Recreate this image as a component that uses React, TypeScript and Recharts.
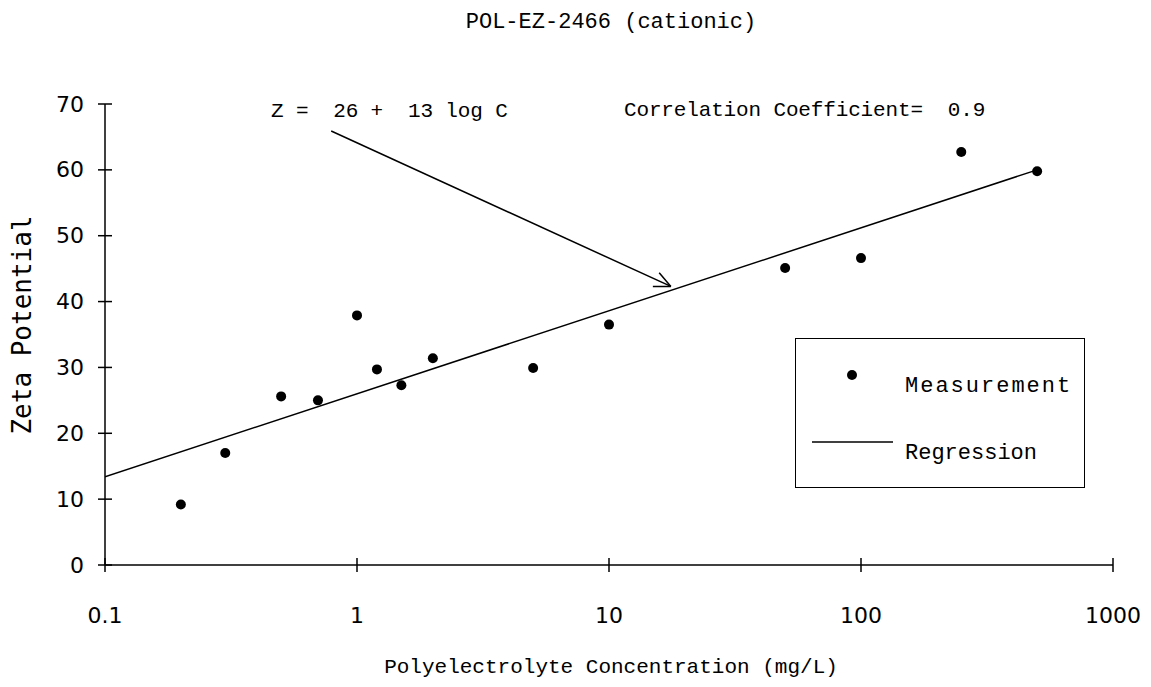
import { ScatterChart, Scatter, XAxis, YAxis, ReferenceLine, Legend } from "recharts";

// concentration (mg/L) and measured zeta potential
const concentration = [0.2, 0.3, 0.5, 0.7, 1, 1.2, 1.5, 2, 5, 10, 50, 100, 250, 500];
const zeta = [9.2, 17.0, 25.6, 25.0, 37.9, 29.7, 27.3, 31.4, 29.9, 36.5, 45.1, 46.6, 62.7, 59.8];

// fitted line end points
const regressionC = [0.1, 500];
const regressionZ = [13.4, 60];

const xTicks = [0.1, 1, 10, 100, 1000];
const yTicks = [0, 10, 20, 30, 40, 50, 60, 70];

// arrow from the equation to the line
const arrowFrom = { x: 0.79, y: 65.9 };
const arrowTo = { x: 17.6, y: 42.3 };

const measurements = concentration.map((c, i) => ({ x: c, y: zeta[i] }));
const regression = regressionC.map((c, i) => ({ x: c, y: regressionZ[i] }));

const W = 1135;
const H = 671;
const TICK = 7;
const X_MARGIN = 36;
const Y_MARGIN = 14;
const MONO = "'Liberation Mono', monospace";
const TICK_FONT = "'DejaVu Sans', sans-serif";
const PRE = { whiteSpace: "pre" as const };

function XTick(props: any) {
  const { x, y, payload } = props;
  const axisY = y - TICK - X_MARGIN;
  return (
    <g>
      <line x1={x} x2={x} y1={axisY - TICK} y2={axisY + TICK} stroke="#000" strokeWidth={1.5} />
      <text x={x} y={y + 7} textAnchor="middle" dominantBaseline="central" fontFamily={TICK_FONT} fontSize={22} fill="#000">
        {payload.value}
      </text>
    </g>
  );
}

function YTick(props: any) {
  const { x, y, payload } = props;
  const axisX = x + TICK + Y_MARGIN;
  return (
    <g>
      <line x1={axisX - TICK} x2={axisX + TICK} y1={y} y2={y} stroke="#000" strokeWidth={1.5} />
      <text x={x} y={y} textAnchor="end" dominantBaseline="central" fontFamily={TICK_FONT} fontSize={22} fill="#000">
        {payload.value}
      </text>
    </g>
  );
}

function Arrow(props: any) {
  const { x1, y1, x2, y2 } = props;
  const ang = Math.atan2(y2 - y1, x2 - x1);
  const len = 18;
  const spread = (25 * Math.PI) / 180;
  const a1 = ang + Math.PI - spread;
  const a2 = ang + Math.PI + spread;
  return (
    <g stroke="#000" strokeWidth={1.5} fill="none">
      <line x1={x1} y1={y1} x2={x2} y2={y2} />
      <line x1={x2} y1={y2} x2={x2 + len * Math.cos(a1)} y2={y2 + len * Math.sin(a1)} />
      <line x1={x2} y1={y2} x2={x2 + len * Math.cos(a2)} y2={y2 + len * Math.sin(a2)} />
    </g>
  );
}

function LegendBox() {
  return (
    <svg width={287} height={147} style={{ display: "block" }}>
      <circle cx={56} cy={36} r={5} fill="#000" />
      <text x={109} y={47} dominantBaseline="central" fontFamily={MONO} fontSize={22} letterSpacing={2} fill="#000">
        Measurement
      </text>
      <line x1={16} x2={97} y1={103} y2={103} stroke="#000" strokeWidth={1.5} />
      <text x={109} y={114} dominantBaseline="central" fontFamily={MONO} fontSize={22} fill="#000">
        Regression
      </text>
    </svg>
  );
}

export default function App() {
  return (
    <div style={{ position: "relative", width: W, height: H, background: "#fff" }}>
      <ScatterChart width={W} height={H} margin={{ top: 96, right: 30, bottom: 4, left: 0 }}>
        <XAxis
          type="number"
          dataKey="x"
          scale="log"
          domain={[0.1, 1000]}
          ticks={xTicks}
          allowDataOverflow
          height={110}
          axisLine={{ stroke: "#000", strokeWidth: 1.5 }}
          tickLine={false}
          tickSize={TICK}
          tickMargin={X_MARGIN}
          tick={<XTick />}
        />
        <YAxis
          type="number"
          dataKey="y"
          domain={[0, 70]}
          ticks={yTicks}
          width={97}
          axisLine={{ stroke: "#000", strokeWidth: 1.5 }}
          tickLine={false}
          tickSize={TICK}
          tickMargin={Y_MARGIN}
          tick={<YTick />}
        />
        <ReferenceLine segment={[arrowFrom, arrowTo]} ifOverflow="visible" shape={<Arrow />} />
        <Scatter
          name="Regression"
          data={regression}
          line={{ stroke: "#000", strokeWidth: 1.5 }}
          shape={() => <g />}
          isAnimationActive={false}
        />
        <Scatter
          name="Measurement"
          data={measurements}
          shape={(p: any) => <circle cx={p.cx} cy={p.cy} r={5} fill="#000" />}
          isAnimationActive={false}
        />
        <Legend
          layout="vertical"
          align="center"
          verticalAlign="middle"
          content={() => <LegendBox />}
          wrapperStyle={{
            left: 787,
            top: 330,
            width: 290,
            height: 150,
            border: "1.5px solid #000",
            boxSizing: "border-box",
            background: "#fff",
          }}
        />
      </ScatterChart>
      <svg width={W} height={H} style={{ position: "absolute", left: 0, top: 0, pointerEvents: "none" }}>
        <text x={603} y={14} textAnchor="middle" dominantBaseline="central" fontFamily={MONO} fontSize={22} fill="#000">
          POL-EZ-2466 (cationic)
        </text>
        <text x={263} y={103} dominantBaseline="central" fontFamily={MONO} fontSize={21} letterSpacing={-0.15} fill="#000" style={PRE}>
          {"Z =  26 +  13 log C"}
        </text>
        <text x={616} y={102} dominantBaseline="central" fontFamily={MONO} fontSize={21} letterSpacing={-0.15} fill="#000" style={PRE}>
          {"Correlation Coefficient=  0.9"}
        </text>
        <text x={603} y={659} textAnchor="middle" dominantBaseline="central" fontFamily={MONO} fontSize={21} fill="#000">
          Polyelectrolyte Concentration (mg/L)
        </text>
        <text
          x={14}
          y={317}
          transform="rotate(-90 14 317)"
          textAnchor="middle"
          dominantBaseline="central"
          fontFamily="'DejaVu Sans Mono', monospace"
          fontSize={26}
          fill="#000"
        >
          Zeta Potential
        </text>
      </svg>
    </div>
  );
}
